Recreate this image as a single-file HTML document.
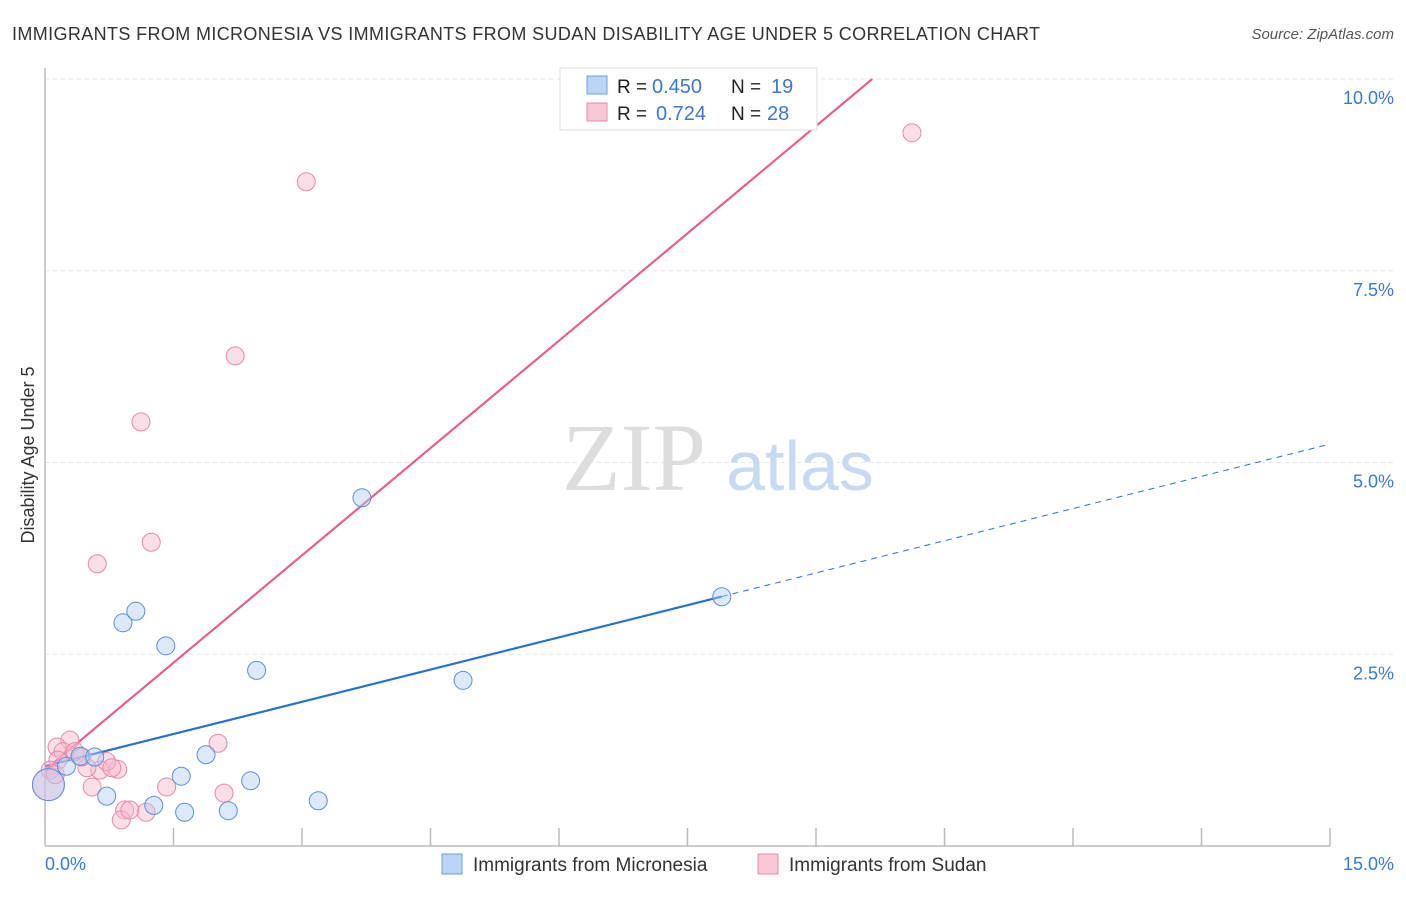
<!DOCTYPE html>
<html><head><meta charset="utf-8"><style>
body{margin:0;background:#fff;font-family:"Liberation Sans",sans-serif;}
</style></head><body>
<svg width="1406" height="892" xmlns="http://www.w3.org/2000/svg">
<text x="12" y="40" font-size="18" fill="#333" textLength="1028">IMMIGRANTS FROM MICRONESIA VS IMMIGRANTS FROM SUDAN DISABILITY AGE UNDER 5 CORRELATION CHART</text>
<text x="1394" y="39" font-size="15" fill="#555" text-anchor="end" font-style="italic">Source: ZipAtlas.com</text>
<g id="grid"></g>
<text x="634" y="490" font-size="96" fill="#ddd" font-family="Liberation Serif" text-anchor="middle">ZIP</text>
<text x="800" y="490" font-size="70" fill="#c8daf2" text-anchor="middle">atlas</text>
<line x1="45" y1="68" x2="45" y2="846" stroke="#bbb" stroke-width="1.5"/>
<line x1="45" y1="846" x2="1330" y2="846" stroke="#bbb" stroke-width="1.5"/>
<g id="ticks"></g>
<g id="ylabels"></g>
<text x="45" y="870" font-size="18" fill="#3a78d8">0.0%</text>
<text x="1394" y="870" font-size="18" fill="#3a78d8" text-anchor="end">15.0%</text>
<text transform="translate(34,455) rotate(-90)" font-size="18" fill="#333" text-anchor="middle">Disability Age Under 5</text>
<g id="lines"></g>
<g id="pts"></g>
<g>
<rect x="560" y="68" width="257" height="62" fill="#fff" stroke="#ddd"/>
<rect x="587" y="76" width="20" height="18" fill="#bcd4f5" stroke="#6d9de0"/>
<rect x="587" y="103" width="20" height="18" fill="#f9c6d4" stroke="#e889a6"/>
<text x="617" y="93" font-size="19" fill="#222">R =</text>
<text x="652" y="93" font-size="20" fill="#3a78d8">0.450</text>
<text x="731" y="93" font-size="19" fill="#222">N =</text>
<text x="771" y="93" font-size="20" fill="#3a78d8">19</text>
<text x="617" y="120" font-size="19" fill="#222">R =</text>
<text x="656" y="120" font-size="20" fill="#3a78d8">0.724</text>
<text x="731" y="120" font-size="19" fill="#222">N =</text>
<text x="767" y="120" font-size="20" fill="#3a78d8">28</text>
</g>
<g>
<rect x="442" y="854" width="20" height="20" fill="#bcd4f5" stroke="#6d9de0"/>
<text x="473" y="871" font-size="19" fill="#333">Immigrants from Micronesia</text>
<rect x="758" y="854" width="20" height="20" fill="#f9c6d4" stroke="#e889a6"/>
<text x="789" y="871" font-size="19" fill="#333">Immigrants from Sudan</text>
</g>
</svg>
<script>
const blueX=[0.25,0.41,0.58,0.72,0.91,1.06,1.41,1.27,1.59,1.63,1.88,2.14,2.40,2.47,3.19,3.70,4.88,7.90,0.04];
const blueY=[1.04,1.17,1.16,0.65,2.91,3.06,2.61,0.53,0.91,0.44,1.19,0.46,0.85,2.29,0.59,4.54,2.16,3.25,0.80];
const pinkX=[3.05,10.12,2.22,1.12,1.24,0.61,2.02,2.09,1.42,1.18,0.93,0.89,0.85,0.55,0.64,0.72,0.49,0.29,0.14,0.21,0.35,0.43,0.15,0.06,0.04,0.12,0.99,0.78];
const pinkY=[8.66,9.30,6.39,5.53,3.96,3.68,1.34,0.69,0.77,0.44,0.47,0.34,1.00,0.77,0.99,1.10,1.02,1.38,1.29,1.23,1.23,1.16,1.12,0.99,0.80,0.93,0.47,1.02];
const yTicks=[2.5,5.0,7.5,10.0];
const xTicks=[1.5,3,4.5,6,7.5,9,10.5,12,13.5,15];
const blueFit=[1.04,0.28], pinkFit=[0.99,0.933];
const NS="http://www.w3.org/2000/svg";
const sx=v=>45+v*1285/15, sy=v=>846-v*76.7;
function mk(t,a,p){const e=document.createElementNS(NS,t);for(const k in a)e.setAttribute(k,a[k]);document.getElementById(p).appendChild(e);return e;}
yTicks.forEach(v=>{const l=mk('line',{x1:45,x2:1394,y1:sy(v),y2:sy(v),stroke:'#e6e6e6','stroke-dasharray':'4,4'},'grid');


const t=mk('text',{x:1394,y:sy(v)+25,'font-size':18,fill:'#3a78d8','text-anchor':'end'},'ylabels');t.textContent=v.toFixed(1)+'%';

});
xTicks.forEach(v=>{const l=mk('line',{x1:sx(v),x2:sx(v),y1:828,y2:846,stroke:'#bbb','stroke-width':1.5},'ticks');

});
function line(f,x0,x1,c,d,w){const l=mk('line',{x1:sx(x0),y1:sy(f[0]+f[1]*x0),x2:sx(x1),y2:sy(f[0]+f[1]*x1),stroke:c,'stroke-width':w},'lines');if(d)l.setAttribute('stroke-dasharray',d);

}
line(blueFit,0,7.9,'#2a6fd6',null,2.2);
line(blueFit,7.9,15,'#2a6fd6','6,5',1);
line(pinkFit,0,(10-pinkFit[0])/pinkFit[1],'#e8608a',null,2.2);
function pts(X,Y,f,s,n){X.forEach((x,i)=>{const r=(x<0.1&&Y[i]<0.9)?16:9;const c=mk('circle',{cx:sx(x),cy:sy(Y[i]),r:r,fill:f,stroke:s,'stroke-width':1,'fill-opacity':0.45},'pts');

});}
pts(pinkX,pinkY,'#f7b9cb','#e889a6','point-sudan');
pts(blueX,blueY,'#b3cdf2','#5b8fdc','point-micronesia');
</script>
</body></html>
